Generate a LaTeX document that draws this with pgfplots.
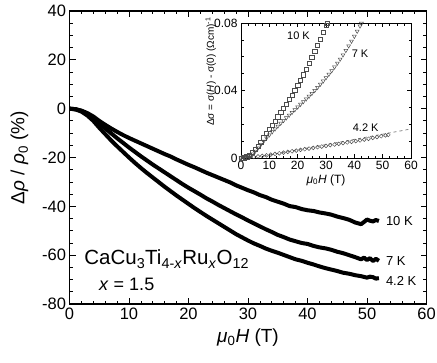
\documentclass[border=0pt]{standalone}
\usepackage{fontspec}
\setmainfont{Liberation Sans}
\usepackage{pgfplots}
\pgfplotsset{compat=1.18}

% Delta rho / rho_0 at 10 K, 7 K, 4.2 K
\pgfplotstableread{
H r10 r7 r42
0 0 0 0
1 -0.2 -0.2 -0.3
2 -0.8 -0.9 -1.2
3 -1.8 -2.1 -2.8
4 -3.2 -3.8 -5.0
5 -5.0 -6.0 -7.8
6 -6.6 -8.1 -10.4
7 -8.1 -10.1 -13.0
8 -9.5 -12.1 -15.4
9 -10.8 -14.0 -17.7
10 -12.0 -15.9 -20.0
11 -13.1 -17.7 -22.2
12 -14.2 -19.5 -24.3
13 -15.3 -21.2 -26.3
14 -16.4 -22.9 -28.2
15 -17.5 -24.5 -30.1
16 -18.6 -26.1 -32.0
17 -19.6 -27.7 -33.8
18 -20.8 -29.3 -35.6
19 -21.9 -30.9 -37.3
20 -23.0 -32.4 -39.0
21 -24.0 -33.8 -40.7
22 -25.1 -35.2 -42.3
23 -26.2 -36.7 -43.9
24 -27.2 -38.0 -45.4
25 -28.2 -39.4 -46.9
26 -29.2 -40.7 -48.4
27 -30.2 -42.0 -49.9
28 -31.4 -43.3 -51.4
29 -32.4 -44.5 -52.7
30 -33.4 -45.8 -54.0
31 -34.3 -47.0 -55.2
32 -35.4 -48.2 -56.2
33 -36.2 -49.4 -57.3
34 -37.3 -50.5 -58.2
35 -38.1 -51.7 -59.0
36 -38.9 -52.6 -59.9
37 -39.9 -53.6 -60.8
38 -40.3 -54.3 -61.7
39 -41.1 -55.0 -62.3
40 -41.6 -55.4 -63.1
41 -41.9 -56.2 -63.8
42 -42.5 -56.8 -64.6
43 -42.9 -57.2 -65.3
44 -43.4 -57.8 -65.9
45 -44.2 -58.6 -66.5
46 -44.8 -59.2 -67.2
47 -45.5 -60.0 -67.6
48 -46.6 -60.8 -68.2
49 -47.3 -61.7 -68.6
49.5 -46.4 -61.0 -68.9
50 -45.4 -62.0 -69.2
50.5 -45.9 -61.2 -68.8
51 -46.2 -62.4 -69.0
51.5 -45.6 -61.5 -69.6
52 -46.0 -62.3 -69.4
}\rhodata

% inset: Delta sigma
\pgfplotstableread{
H s
0 0
1 0.0002
2 0.0007
3 0.0017
4 0.0032
5 0.0050
6 0.0072
7 0.0095
8 0.0120
9 0.0145
10 0.0170
11 0.0195
12 0.0220
13 0.0245
14 0.0270
15 0.0295
16 0.0320
17 0.0346
18 0.0373
19 0.0400
20 0.0430
21 0.0461
22 0.0493
23 0.0526
24 0.0560
25 0.0595
26 0.0631
27 0.0668
28 0.0706
29 0.0745
30 0.0785
30.4 0.0800
}\sigten

\pgfplotstableread{
H s
0 0
1 0.0002
2 0.0006
3 0.0013
4 0.0024
5 0.0040
6 0.0060
7 0.0080
8 0.0100
9 0.0119
10 0.0137
11 0.0155
12 0.0172
13 0.0189
14 0.0206
15 0.0222
16 0.0238
17 0.0254
18 0.0270
19 0.0286
20 0.0302
21 0.0318
22 0.0334
23 0.0350
24 0.0366
25 0.0383
26 0.0400
27 0.0418
28 0.0437
29 0.0456
30 0.0476
31 0.0496
32 0.0517
33 0.0539
34 0.0562
35 0.0586
36 0.0611
37 0.0637
38 0.0664
39 0.0692
40 0.0721
41 0.0751
42 0.0782
42.5 0.0798
}\sigseven

\pgfplotstableread{
H s
0 0
1.5 0.0002
3 0.0004
4.5 0.0006
6 0.0009
7.5 0.0012
9 0.0016
10.5 0.0020
12 0.0024
13.5 0.0028
15 0.0032
16.5 0.0036
18 0.0040
19.5 0.0044
21 0.0048
22.5 0.0052
24 0.0056
25.5 0.0060
27 0.0064
28.5 0.0068
30 0.0072
31.5 0.0076
33 0.0080
34.5 0.0084
36 0.0088
37.5 0.0092
39 0.0096
40.5 0.0100
42 0.0104
43.5 0.0109
45 0.0114
46.5 0.0119
48 0.0124
49.5 0.0129
51 0.0134
52 0.0137
}\sigfour

\begin{document}
\begin{tikzpicture}
\pgfplotsset{
  every axis/.append style={
    /pgf/number format/assume math mode=true,
    axis line style={line width=1.1pt},
    every tick/.style={black,line width=0.8pt},
    tick align=inside,
  }
}
\begin{axis}[name=main, scale only axis, width=357pt, height=293pt,
  xmin=0, xmax=60, ymin=-80, ymax=40,
  xtick={0,10,...,60}, ytick={-80,-60,...,40},
  minor x tick num=4, minor y tick num=3,
  major tick length=6pt, minor tick length=3.5pt,
  tick label style={font=\fontsize{16.5}{18}\selectfont},
  xlabel={\textit{μ}\textsubscript{0}\textit{H} (T)},
  ylabel={Δ\textit{ρ} / \textit{ρ}\textsubscript{0} (\%)},
  label style={font=\fontsize{19}{22}\selectfont},
  x label style={at={(axis description cs:0.5,-0.113)}, anchor=center},
  y label style={at={(axis description cs:-0.14,0.5)}, anchor=center},
]
\addplot[black, line width=4pt, line join=round] table[x=H, y=r10] {\rhodata};
\addplot[black, line width=4pt, line join=round] table[x=H, y=r7] {\rhodata};
\addplot[black, line width=4pt, line join=round] table[x=H, y=r42] {\rhodata};
\node[anchor=west, font=\fontsize{13}{15}\selectfont] at (axis cs:52.6,-46.2) {10 K};
\node[anchor=west, font=\fontsize{13}{15}\selectfont] at (axis cs:52.6,-62.2) {7 K};
\node[anchor=west, font=\fontsize{13}{15}\selectfont] at (axis cs:52.6,-70.5) {4.2 K};
\node[anchor=base west, font=\fontsize{20.5}{24}\selectfont] at (axis cs:1.9,-64)
  {CaCu\textsubscript{3}Ti\textsubscript{4-\textit{x}}Ru\textsubscript{\textit{x}}O\textsubscript{12}};
\node[anchor=base west, font=\fontsize{18}{21}\selectfont] at (axis cs:4.4,-74.3)
  {\textit{x} = 1.5};
\end{axis}

\begin{axis}[scale only axis, width=170pt, height=135pt,
  at={(171.5pt,281pt)}, anchor=north west,
  xmin=0, xmax=60, ymin=0, ymax=0.08,
  xtick={0,10,...,60}, ytick={0,0.04,0.08}, yticklabels={0,0.04,0.08},
  scaled y ticks=false,
  minor x tick num=3, minor y tick num=3,
  major tick length=4pt, minor tick length=2.5pt,
  axis line style={line width=0.8pt},
  every tick/.style={black,line width=0.6pt},
  tick label style={font=\fontsize{12}{14}\selectfont},
  xlabel={\textit{μ}\textsubscript{0}\textit{H} (T)},
  ylabel={Δσ = σ(\textit{H}) - σ(0) (Ωcm)\textsuperscript{-1}},
  x label style={font=\fontsize{12}{14}\selectfont, at={(axis description cs:0.5,-0.163)}, anchor=center},
  y label style={font=\fontsize{10}{12}\selectfont, at={(axis description cs:-0.178,0.64)}, anchor=center},
]
\addplot[black!55, dashed, line width=0.7pt] coordinates {(8,0.0012) (60,0.0172)};
\addplot[only marks, mark=square, mark size=2.1pt, mark options={black!70, line width=0.5pt}] table[x=H, y=s] {\sigten};
\addplot[only marks, mark=triangle, mark size=2.2pt, mark options={black!70, line width=0.5pt, rotate=180}] table[x=H, y=s] {\sigseven};
\addplot[only marks, mark=o, mark size=1.9pt, mark options={black!70, line width=0.5pt}] table[x=H, y=s] {\sigfour};
\node[font=\fontsize{11}{13}\selectfont] at (axis cs:20.3,0.0725) {10 K};
\node[font=\fontsize{11}{13}\selectfont] at (axis cs:42,0.0617) {7 K};
\node[font=\fontsize{11}{13}\selectfont] at (axis cs:44,0.018) {4.2 K};
\end{axis}
\pgfresetboundingbox
\path ([xshift=-69.5pt,yshift=-58pt]main.south west) rectangle ([xshift=10.5pt,yshift=11pt]main.north east);
\end{tikzpicture}
\end{document}
